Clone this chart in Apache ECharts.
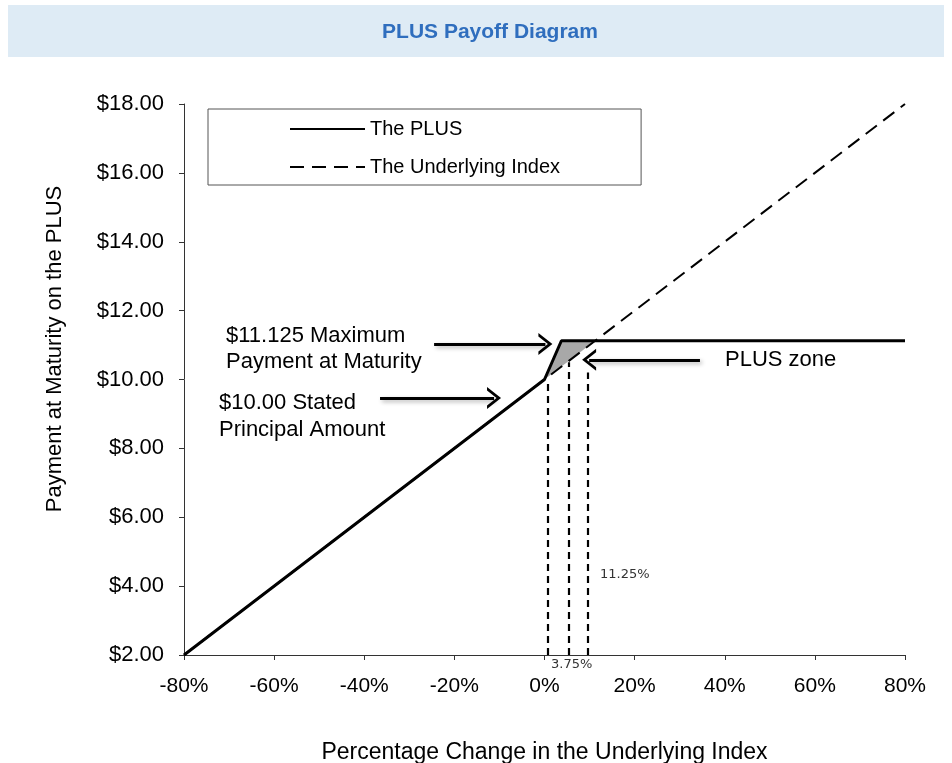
<!DOCTYPE html>
<html>
<head>
<meta charset="utf-8">
<script src="https://cdn.jsdelivr.net/npm/echarts@6/dist/echarts.min.js"></script>
<style>
  html, body { margin: 0; padding: 0; background: #fff; }
  #main { width: 952px; height: 763px; }
</style>
</head>
<body>
<div id="main"></div>
<script>
// payoff of the PLUS (% change of index -> payment)
const plusX = [-80, 0, 3.75, 80];
const plusY = [2, 10, 11.125, 11.125];
// underlying index, 1:1
const indexX = [-80, 80];
const indexY = [2, 18];
// grey "PLUS zone"
const zoneX = [0, 3.75, 11.25];
const zoneY = [10, 11.125, 11.125];
// dashed guide lines down to the x axis
const guideX = [0.7, 5.4, 9.7];
const guideTop = [10.0, 10.5, 10.2];
// annotation arrows [fromX, fromY, toX, toY]
const arrows = [
  [-24.5, 11.03, 0.2, 11.03],
  [-36.5, 9.46, -11.2, 9.46],
  [34.5, 10.57, 9.9, 10.57]
];

const chevron = 'path://M0,14 L11,0 L22,14 L18.5,14 L11,4.5 L3.5,14 Z';
const font = 'Liberation Sans, Arial, sans-serif';

let chart = echarts.init(document.getElementById('main'));

let arrowLines = arrows.map(function (a) {
  return [{ coord: [a[0], a[1]] }, { coord: [a[2], a[3]] }];
});
let guideLines = guideX.map(function (x, i) {
  return [{ coord: [x, 2] }, { coord: [x, guideTop[i]] }];
});

let option = {
  animation: false,
  title: {
    text: 'PLUS Payoff Diagram',
    left: 485,
    top: 17,
    textAlign: 'center',
    textStyle: { color: '#2F6EBE', fontSize: 21, fontWeight: 'bold', fontFamily: font }
  },
  graphic: [
    { type: 'rect', z: -10, shape: { x: 8, y: 5, width: 936, height: 52 }, style: { fill: '#DEEBF5' } },
    { type: 'text', x: 55, y: 349, rotation: Math.PI / 2,
      style: { text: 'Payment at Maturity on the PLUS', font: '22px ' + font, fill: '#000', align: 'center', verticalAlign: 'middle' } },
    { type: 'text', x: 226, y: 323,
      style: { text: '$11.125 Maximum\nPayment at Maturity', font: '22px ' + font, fill: '#000', lineHeight: 26 } },
    { type: 'text', x: 219, y: 389,
      style: { text: '$10.00 Stated\nPrincipal Amount', font: '22px ' + font, fill: '#000', lineHeight: 27 } },
    { type: 'text', x: 725, y: 360,
      style: { text: 'PLUS zone', font: '22px ' + font, fill: '#000', verticalAlign: 'middle' } },
    { type: 'text', x: 600, y: 575,
      style: { text: '11.25%', font: '13px DejaVu Sans, sans-serif', fill: '#333', verticalAlign: 'middle' } },
    { type: 'text', x: 551, y: 665,
      style: { text: '3.75%', font: '13px DejaVu Sans, sans-serif', fill: '#333', verticalAlign: 'middle' } }
  ],
  legend: {
    orient: 'vertical',
    left: 208,
    top: 109,
    padding: [10, 81, 8, 81],
    itemWidth: 75,
    itemHeight: 14,
    itemGap: 18,
    borderColor: '#555',
    borderWidth: 1,
    itemStyle: { opacity: 0 },
    textStyle: { fontSize: 20, color: '#000', fontFamily: font },
    data: ['The PLUS', 'The Underlying Index']
  },
  grid: { left: 184, right: 47, top: 104, bottom: 108, containLabel: false, outerBoundsMode: 'none' },
  xAxis: {
    type: 'value',
    min: -80,
    max: 80,
    interval: 20,
    name: 'Percentage Change in the Underlying Index',
    nameLocation: 'middle',
    nameGap: 86,
    nameTextStyle: { fontSize: 23, color: '#000', fontFamily: font },
    axisLine: { onZero: false, lineStyle: { color: '#333', width: 1 } },
    axisTick: { length: 5, lineStyle: { color: '#333' } },
    axisLabel: { fontSize: 21, color: '#000', fontFamily: font, margin: 21,
      formatter: function (v) { return v + '%'; } },
    splitLine: { show: false }
  },
  yAxis: {
    type: 'value',
    min: 2,
    max: 18,
    interval: 2,
    axisLine: { show: true, onZero: false, lineStyle: { color: '#333', width: 1 } },
    axisTick: { show: true, length: 5, lineStyle: { color: '#333' } },
    axisLabel: { fontSize: 22, color: '#000', fontFamily: font, margin: 20,
      formatter: function (v) { return '$' + v.toFixed(2); } },
    splitLine: { show: false }
  },
  series: [
    {
      type: 'custom',
      name: 'zone',
      z: 1,
      silent: true,
      data: [0],
      renderItem: function (params, api) {
        return {
          type: 'polygon',
          shape: { points: zoneX.map(function (x, i) { return api.coord([x, zoneY[i]]); }) },
          style: { fill: '#A8A8A8' }
        };
      }
    },
    {
      type: 'line',
      name: 'The Underlying Index',
      z: 2,
      symbol: 'none',
      itemStyle: { color: '#000' },
      data: indexX.map(function (x, i) { return [x, indexY[i]]; }),
      lineStyle: { color: '#000', width: 2, type: [14, 8] }
    },
    {
      type: 'line',
      name: 'The PLUS',
      z: 3,
      symbol: 'none',
      itemStyle: { color: '#000' },
      data: plusX.map(function (x, i) { return [x, plusY[i]]; }),
      lineStyle: { color: '#000', width: 3 }
    },
    {
      type: 'line',
      name: 'annotations',
      z: 4,
      data: [],
      markLine: {
        silent: true,
        animation: false,
        label: { show: false },
        data: arrowLines,
        symbol: ['none', chevron],
        symbolSize: [22, 14],
        lineStyle: { color: '#000', width: 3, type: 'solid',
          shadowColor: 'rgba(0,0,0,0.3)', shadowBlur: 4, shadowOffsetX: 2, shadowOffsetY: 2 }
      }
    },
    {
      type: 'line',
      name: 'guides',
      z: 4,
      data: [],
      markLine: {
        silent: true,
        animation: false,
        label: { show: false },
        data: guideLines,
        symbol: ['none', 'none'],
        lineStyle: { color: '#000', width: 2.2, type: [7, 5] }
      }
    }
  ]
};

chart.setOption(option);
</script>
</body>
</html>
